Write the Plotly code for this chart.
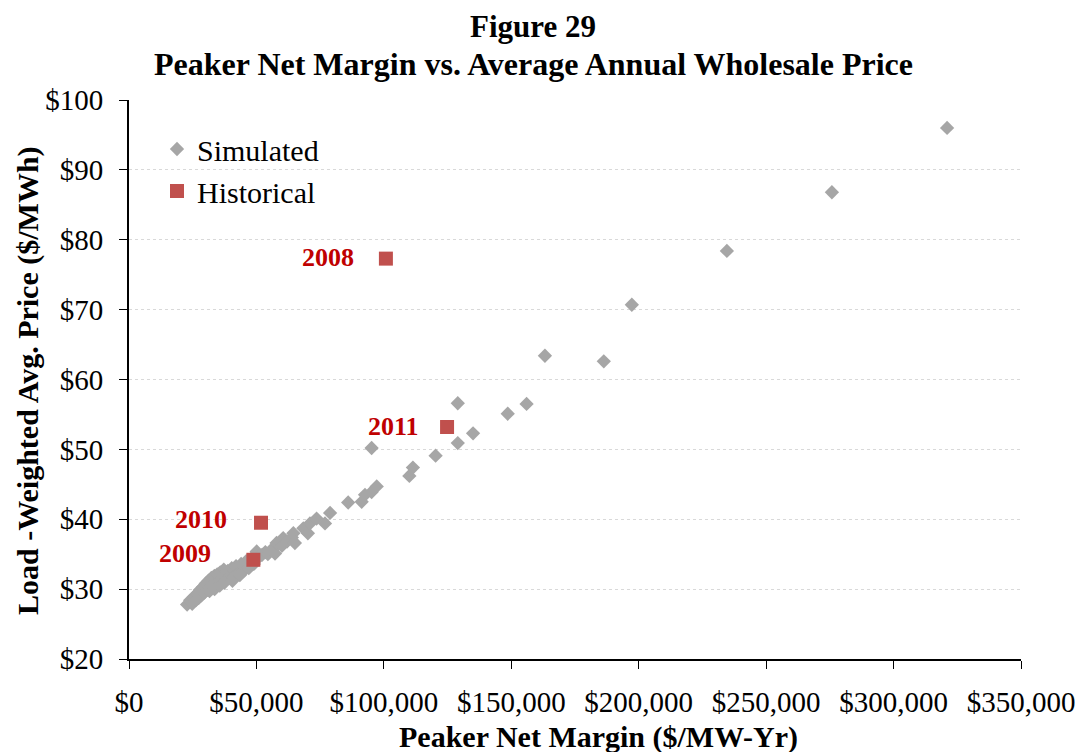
import plotly.graph_objects as go

# ---- data ----
sim_margin = [  # $/MW-Yr
    22800, 24000, 24800, 25500, 26200, 26800, 27300, 27900, 28400, 29000,
    29600, 30100, 30700, 31200, 31800, 32300, 32900, 33500, 34000, 34600,
    35200, 35800, 36500, 37200, 38000, 38800, 39500, 40300, 41200, 42000,
    43000, 44000, 45000, 46000, 47000, 48000, 49000, 50100, 51000, 52200,
    53500, 54500, 55800, 57300, 57900, 58500, 60000, 60500, 62000, 63900,
    64500, 65100, 68400, 70200, 71000, 73600, 76900, 78900, 86000, 91300,
    92600, 95200, 97200, 95200, 110000, 111400, 120300, 129000, 135000, 148600,
    156000, 129000, 163200, 186300, 197300, 234600, 275800, 321000,
    31600, 33600, 35600, 37400, 40600, 43500,
]
sim_price = [  # $/MWh
    27.8, 28.4, 27.9, 28.9, 28.4, 29.4, 28.7, 29.9, 29.1, 30.3,
    29.5, 30.8, 29.9, 31.2, 30.3, 31.6, 30.6, 31.9, 31.0, 32.1,
    31.2, 32.4, 31.5, 32.8, 31.4, 32.6, 31.7, 33.0, 31.8, 33.3,
    32.3, 33.6, 32.6, 34.0, 33.0, 34.4, 33.6, 35.4, 34.6, 34.9,
    35.3, 35.0, 35.6, 35.1, 36.6, 36.4, 36.2, 37.3, 36.8, 37.4,
    38.0, 36.6, 38.7, 38.0, 39.4, 40.1, 39.4, 40.9, 42.4, 42.5,
    43.5, 43.9, 44.7, 50.2, 46.2, 47.4, 49.1, 50.9, 52.3, 55.1,
    56.5, 56.6, 63.4, 62.6, 70.7, 78.4, 86.8, 96.0,
    29.7, 30.0, 30.5, 30.9, 31.2, 32.0,
]

hist_years = ["2008", "2009", "2010", "2011"]
hist_margin = [100800, 48800, 51800, 124800]
hist_price = [77.3, 34.2, 39.5, 53.2]
label_xshift = [-30, -40, -32, -26]
label_yshift = [1, 6, 3, 1]

y_ticks = [20, 30, 40, 50, 60, 70, 80, 90, 100]
y_tick_text = ["$20", "$30", "$40", "$50", "$60", "$70", "$80", "$90", "$100"]
x_ticks = [0, 50000, 100000, 150000, 200000, 250000, 300000, 350000]
x_tick_text = ["$0", "$50,000", "$100,000", "$150,000", "$200,000",
               "$250,000", "$300,000", "$350,000"]

FONT = "Liberation Serif, Times New Roman, serif"

# the page body has an 8px margin, so shift the layout up/left by 8px
OFF = 8
W, H = 1083, 752
L = 129 - OFF
T = 100 - OFF
R = W - (1021 - OFF)
B = H - (659 - OFF)
PW, PH = W - L - R, H - T - B


def px_x(px):  # screen pixel -> paper x
    return (px - OFF - L) / PW


def px_y(py):  # screen pixel -> paper y
    return (H - B - (py - OFF)) / PH


fig = go.Figure()
fig.add_trace(go.Scatter(
    x=sim_margin, y=sim_price, mode="markers", name="Simulated",
    marker=dict(symbol="diamond", size=11, color="#A6A6A6", line=dict(width=0)),
))
fig.add_trace(go.Scatter(
    x=hist_margin, y=hist_price, mode="markers", name="Historical",
    marker=dict(symbol="square", size=14, color="#C0504D", line=dict(width=0)),
))

for yr, xv, yv, xs, ys in zip(hist_years, hist_margin, hist_price, label_xshift, label_yshift):
    fig.add_annotation(
        x=xv, y=yv, text="<b>" + yr + "</b>", showarrow=False,
        xanchor="right", yanchor="middle", xshift=xs, yshift=ys,
        font=dict(family=FONT, size=26, color="#C00000"),
    )

# titles as annotations
fig.add_annotation(xref="paper", yref="paper", x=px_x(533), y=px_y(27),
                   text="<b>Figure 29</b>", showarrow=False,
                   xanchor="center", yanchor="middle",
                   font=dict(family=FONT, size=31, color="black"))
fig.add_annotation(xref="paper", yref="paper", x=px_x(533), y=px_y(64),
                   text="<b>Peaker Net Margin vs. Average Annual Wholesale Price</b>",
                   showarrow=False, xanchor="center", yanchor="middle",
                   font=dict(family=FONT, size=32, color="black"))
fig.add_annotation(xref="paper", yref="paper", x=px_x(598), y=px_y(737),
                   text="<b>Peaker Net Margin ($/MW-Yr)</b>", showarrow=False,
                   xanchor="center", yanchor="middle",
                   font=dict(family=FONT, size=30, color="black"))
fig.add_annotation(xref="paper", yref="paper", x=px_x(28), y=px_y(381),
                   text="<b>Load -Weighted Avg. Price ($/MWh)</b>", showarrow=False,
                   textangle=-90, xanchor="center", yanchor="middle",
                   font=dict(family=FONT, size=30, color="black"))

fig.update_layout(
    width=W, height=H,
    paper_bgcolor="white", plot_bgcolor="white",
    margin=dict(l=L, r=R, t=T, b=B, autoexpand=False),
    font=dict(family=FONT, size=29, color="black"),
    legend=dict(
        x=px_x(157), y=px_y(123), xanchor="left", yanchor="top",
        bgcolor="rgba(0,0,0,0)", font=dict(family=FONT, size=30),
        itemsizing="trace",
    ),
    showlegend=True,
)

fig.update_xaxes(
    range=[0, 350000], tickmode="array", tickvals=x_ticks, ticktext=x_tick_text,
    showgrid=False, zeroline=False, showline=True, linecolor="black", linewidth=2,
    ticks="outside", ticklen=8, tickcolor="black", tickwidth=1,
    tickfont=dict(family=FONT, size=29), ticklabelstandoff=8, automargin=False,
)
fig.update_yaxes(
    range=[20, 100], tickmode="array", tickvals=y_ticks, ticktext=y_tick_text,
    showgrid=True, gridcolor="#D9D9D9", griddash="dot", gridwidth=1,
    zeroline=False, showline=True, linecolor="black", linewidth=2,
    ticks="outside", ticklen=8, tickcolor="black", tickwidth=1,
    tickfont=dict(family=FONT, size=29), ticklabelstandoff=10, automargin=False,
)

fig.write_html("out.html")
